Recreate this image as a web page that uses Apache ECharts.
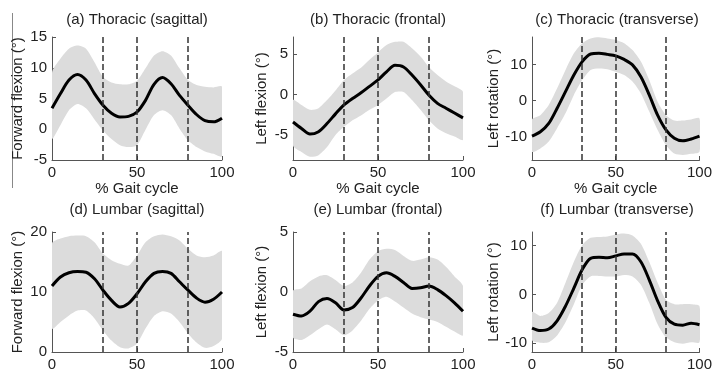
<!DOCTYPE html>
<html>
<head>
<meta charset="utf-8">
<script src="https://cdn.jsdelivr.net/npm/echarts@6/dist/echarts.min.js"></script>
<style>
  html, body { margin: 0; padding: 0; background: #fff; }
  #chart { width: 715px; height: 373px; }
</style>
</head>
<body>
<div id="chart"></div>
<script>
// % gait cycle samples
const gait = [0, 5, 10, 15, 20, 25, 30, 35, 40, 45, 50, 55, 60, 65, 70, 75, 80, 85, 90, 95, 100];
const phaseLines = [30, 50, 80];

// (a) thoracic sagittal
const thorSagMean  = [3.4, 5.8, 8.0, 8.9, 8.0, 5.8, 3.9, 2.6, 2.0, 2.1, 2.8, 4.7, 7.3, 8.4, 7.4, 5.5, 3.9, 2.4, 1.4, 1.2, 1.8];
const thorSagUpper = [9.2, 11.5, 13.1, 13.6, 13.1, 10.9, 8.5, 7.6, 7.3, 7.3, 7.9, 9.9, 12.0, 12.7, 12.0, 9.9, 8.0, 7.2, 6.9, 6.8, 6.9];
const thorSagLower = [-1.5, 0.7, 3.1, 4.1, 3.4, 1.6, -0.2, -1.6, -2.6, -2.9, -2.6, -0.1, 2.3, 3.1, 2.3, 0.1, -1.8, -2.9, -3.6, -4.0, -4.4];

// (b) thoracic frontal
const thorFroMean  = [-3.4, -4.2, -4.9, -4.6, -3.6, -2.4, -1.3, -0.5, 0.2, 1.0, 1.8, 2.8, 3.6, 3.4, 2.4, 1.2, -0.1, -1.1, -1.7, -2.3, -2.9];
const thorFroUpper = [-0.7, -1.3, -1.9, -1.7, -0.7, 0.5, 1.8, 2.6, 3.3, 4.3, 5.2, 6.1, 6.5, 6.5, 5.7, 4.7, 3.4, 2.4, 1.6, 1.0, 0.3];
const thorFroLower = [-6.3, -7.1, -7.7, -7.5, -6.5, -5.0, -4.0, -3.2, -2.6, -1.9, -1.3, -0.5, 0.3, 0.3, -0.7, -1.9, -3.2, -4.2, -4.8, -5.2, -5.6];

// (c) thoracic transverse
const thorTraMean  = [-9.8, -8.6, -6.3, -2.1, 2.5, 7.1, 10.8, 12.9, 13.1, 12.8, 12.4, 11.4, 9.9, 6.6, 1.6, -4.0, -8.1, -10.4, -11.1, -10.6, -9.8];
const thorTraUpper = [-5.2, -4.0, -1.2, 3.4, 8.5, 13.1, 15.9, 17.2, 17.5, 17.2, 16.8, 15.9, 14.0, 10.8, 5.7, -0.3, -4.0, -5.5, -5.5, -5.2, -4.9];
const thorTraLower = [-14.1, -13.2, -11.3, -7.6, -3.5, 1.6, 5.7, 8.5, 8.9, 8.7, 8.0, 7.1, 5.3, 2.0, -3.0, -8.1, -12.3, -14.6, -15.0, -14.7, -14.1];

// (d) lumbar sagittal
const lumSagMean  = [11.0, 12.5, 13.2, 13.4, 13.3, 12.2, 10.3, 8.6, 7.5, 8.1, 9.7, 11.7, 13.1, 13.4, 13.1, 11.7, 10.3, 9.0, 8.3, 8.8, 10.0];
const lumSagUpper = [18.1, 18.9, 19.3, 19.4, 19.3, 18.3, 16.4, 15.3, 14.7, 14.4, 16.1, 18.3, 19.3, 19.6, 19.3, 18.6, 17.2, 16.1, 15.8, 16.1, 16.8];
const lumSagLower = [3.9, 5.0, 6.1, 6.9, 6.9, 5.6, 3.6, 1.9, 0.8, 0.6, 1.4, 3.9, 6.0, 6.8, 6.4, 5.0, 3.1, 1.6, 0.7, 1.0, 2.2];

// (e) lumbar frontal
const lumFroMean  = [-1.85, -2.0, -1.6, -0.8, -0.55, -0.9, -1.5, -1.3, -0.5, 0.5, 1.3, 1.6, 1.3, 0.8, 0.3, 0.35, 0.5, 0.2, -0.3, -0.9, -1.6];
const lumFroUpper = [0.1, 0.3, 0.9, 1.3, 1.4, 1.0, 0.5, 0.8, 1.6, 2.7, 3.4, 3.6, 3.5, 3.0, 2.6, 2.7, 2.9, 2.7, 2.1, 1.3, 0.5];
const lumFroLower = [-3.8, -4.0, -3.6, -3.1, -2.7, -3.1, -3.6, -3.2, -2.4, -1.4, -0.7, -0.4, -0.8, -1.3, -1.8, -2.1, -2.3, -2.5, -2.9, -3.3, -3.6];

// (f) lumbar transverse
const lumTraMean  = [-6.9, -7.4, -7.1, -5.4, -2.4, 1.3, 5.1, 7.4, 7.6, 7.5, 7.9, 8.3, 8.3, 6.7, 3.0, -1.3, -4.7, -6.1, -6.3, -5.9, -6.2];
const lumTraUpper = [-3.6, -4.4, -3.8, -1.7, 2.4, 6.7, 10.1, 11.6, 11.8, 11.9, 12.3, 12.5, 12.1, 10.4, 6.7, 2.4, -1.1, -2.0, -2.0, -2.0, -2.4];
const lumTraLower = [-9.4, -9.9, -9.8, -8.4, -5.7, -2.0, 2.0, 3.7, 3.8, 3.7, 3.7, 4.0, 3.7, 2.0, -1.7, -6.1, -8.8, -9.8, -10.1, -9.8, -9.8];

const panelTitles = ['(a) Thoracic (sagittal)', '(b) Thoracic (frontal)', '(c) Thoracic (transverse)',
                     '(d) Lumbar (sagittal)', '(e) Lumbar (frontal)', '(f) Lumbar (transverse)'];
const yNames = ['Forward flexion (°)', 'Left flexion (°)', 'Left rotation (°)',
                'Forward flexion (°)', 'Left flexion (°)', 'Left rotation (°)'];
const yTicks = [[-5, 0, 5, 10, 15], [-5, 0, 5], [-10, 0, 10], [0, 10, 20], [-5, 0, 5], [-10, 0, 10]];
const yRange = [[-5, 15], [-8.1, 7.1], [-16.4, 17.6], [0, 20], [-5, 5], [-11.8, 12.8]];
const xName = '% Gait cycle';

const panels = [
  [thorSagMean, thorSagUpper, thorSagLower],
  [thorFroMean, thorFroUpper, thorFroLower],
  [thorTraMean, thorTraUpper, thorTraLower],
  [lumSagMean, lumSagUpper, lumSagLower],
  [lumFroMean, lumFroUpper, lumFroLower],
  [lumTraMean, lumTraUpper, lumTraLower]
];

const font = 'Liberation Sans, Arial, sans-serif';
const colLeft = [52, 293, 532];
const rowTop = [37, 232];
const rowHeight = [123, 120];
const plotWidth = 170;
const nameGaps = [27, 24, 31, 27, 24, 31];

const chart = echarts.init(document.getElementById('chart'));

// shaded band: upper edge forward, lower edge back, as one polygon
function bandRenderer(upper, lower) {
  return function (params, api) {
    if (params.dataIndex !== 0) return;
    const top = gait.map((g, k) => api.coord([g, upper[k]]));
    const bottom = gait.map((g, k) => api.coord([g, lower[k]])).reverse();
    return {
      type: 'polygon',
      shape: { points: top.concat(bottom), smooth: 0.25 },
      style: { fill: '#dcdcdc', stroke: null }
    };
  };
}

const grid = [], xAxis = [], yAxis = [], series = [], title = [];
panels.forEach((p, i) => {
  const r = Math.floor(i / 3), c = i % 3;
  grid.push({ left: colLeft[c], top: rowTop[r], width: plotWidth, height: rowHeight[r] });
  title.push({
    text: panelTitles[i], left: colLeft[c] + plotWidth / 2, top: r === 0 ? 12 : 202,
    textAlign: 'center', padding: 0,
    textStyle: { fontFamily: font, fontSize: 15, fontWeight: 'normal', color: '#222' }
  });
  const axisLine = { show: true, onZero: false, lineStyle: { color: '#555', width: 1 } };
  xAxis.push({
    gridIndex: i, type: 'value', min: 0, max: 100, interval: 50,
    name: r === 0 ? xName : '', nameLocation: 'middle', nameGap: 20,
    nameTextStyle: { fontFamily: font, fontSize: 15, color: '#222' },
    axisLine: axisLine,
    axisTick: { inside: true, length: 4, lineStyle: { color: '#555' } },
    axisLabel: { fontFamily: font, fontSize: 15, color: '#222', margin: 5 },
    splitLine: { show: false }
  });
  yAxis.push({
    gridIndex: i, type: 'value', min: yRange[i][0], max: yRange[i][1],
    name: yNames[i], nameLocation: 'middle', nameGap: nameGaps[i], nameRotate: 90,
    nameTextStyle: { fontFamily: font, fontSize: 15, color: '#222' },
    axisLine: axisLine,
    axisTick: { inside: true, length: 4, customValues: yTicks[i], lineStyle: { color: '#555' } },
    axisLabel: { fontFamily: font, fontSize: 15, color: '#222', margin: 5, customValues: yTicks[i] },
    splitLine: { show: false }
  });
  const [mean, upper, lower] = p;
  series.push({
    type: 'custom', xAxisIndex: i, yAxisIndex: i, clip: true, silent: true, z: 1,
    data: gait.map((g, k) => [g, lower[k], upper[k]]),
    encode: { x: 0, y: [1, 2] },
    renderItem: bandRenderer(upper, lower)
  });
  series.push({
    type: 'line', xAxisIndex: i, yAxisIndex: i, z: 3,
    data: gait.map((g, k) => [g, mean[k]]),
    smooth: 0.3, symbol: 'none', lineStyle: { color: '#000', width: 3 },
    markLine: {
      silent: true, symbol: 'none', label: { show: false },
      lineStyle: { color: '#333', width: 1.5, type: [6, 3] },
      data: phaseLines.map(v => ({ xAxis: v }))
    }
  });
});

chart.setOption({
  animation: false,
  title: title,
  grid: grid,
  xAxis: xAxis,
  yAxis: yAxis,
  series: series,
  graphic: [{
    type: 'line', shape: { x1: 12.5, y1: 13, x2: 12.5, y2: 188 },
    style: { stroke: '#888', lineWidth: 1 }
  }]
});
</script>
</body>
</html>
